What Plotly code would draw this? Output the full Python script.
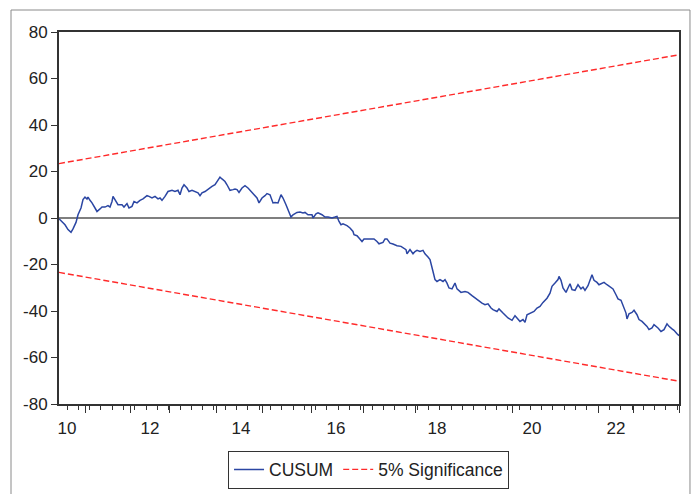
import plotly.graph_objects as go

obs = [0, 1, 3, 6, 9, 12, 14, 17, 19, 22, 24, 26, 28, 29, 31, 33, 36, 38, 41, 43, 46, 49, 51, 53, 54,
       57, 59, 63, 65, 68, 70, 73, 75, 78, 81, 84, 88, 90, 93, 96, 99, 101, 103, 106, 109, 113, 116,
       119, 121, 123, 125, 128, 130, 133, 136, 139, 141, 143, 146, 149, 153, 156, 158, 161, 163, 166,
       168, 171, 174, 176, 178, 180, 183, 186, 189, 192, 194, 196, 198, 200, 203, 206, 208, 211, 214,
       216, 219, 222, 224, 227, 229, 232, 234, 238, 241, 244, 246, 249, 253, 254, 257, 259, 263, 266,
       269, 273, 276, 278, 280, 282, 284, 288, 291, 294, 295, 298, 300, 303, 305, 308, 312, 315, 318,
       320, 324, 326, 328, 331, 334, 338, 342, 344, 347, 348, 351, 354, 356, 358, 361, 364, 366, 369,
       371, 374, 376, 378, 381, 384, 386, 388, 390, 393, 396, 398, 402, 406, 409, 413, 416, 419, 423,
       426, 429, 432, 434, 438, 440, 444, 447, 449, 453, 456, 458, 461, 464, 466, 468, 472, 475, 478,
       481, 484, 488, 491, 493, 496, 499, 500, 502, 504, 507, 509, 511, 513, 516, 519, 522, 524, 526,
       529, 531, 533, 535, 538, 540, 543, 545, 548, 551, 554, 557, 559, 562, 564, 567, 568, 570, 573,
       575, 578, 580, 583, 585, 588, 590, 593, 595, 599, 602, 605, 608, 610, 613, 615, 618, 620]
cusum = [-0.3, -0.7, -1.5, -2.9, -5.0, -6.2, -4.7, -1.9, 1.4, 4.3, 7.9, 9.0, 8.2, 9.0, 7.6, 6.5, 4.3,
         2.8, 3.9, 4.7, 4.7, 5.3, 4.7, 7.1, 9.3, 7.1, 5.7, 5.7, 4.7, 6.2, 4.3, 5.0, 7.1, 6.5, 7.6, 8.2,
         9.6, 9.3, 8.6, 9.3, 8.2, 8.6, 7.6, 9.3, 11.4, 11.9, 11.4, 11.9, 10.0, 12.9, 14.3, 12.9, 11.4,
         11.9, 11.4, 10.8, 9.6, 10.8, 11.4, 12.5, 13.6, 14.3, 15.7, 17.6, 16.8, 15.7, 14.3, 11.9, 12.2,
         12.5, 12.2, 11.0, 12.9, 13.9, 12.9, 11.4, 10.5, 9.3, 8.6, 6.5, 8.6, 9.6, 10.5, 10.0, 6.5, 6.7,
         6.5, 10.0, 8.6, 5.7, 3.6, 0.4, 1.4, 2.4, 2.6, 2.2, 2.4, 1.4, 1.4, 0.0, 1.8, 2.2, 1.4, 0.4, 0.4,
         0.0, 0.4, 0.7, -1.5, -2.9, -2.5, -3.3, -4.3, -5.8, -7.2, -7.6, -8.6, -10.1, -9.0, -9.0, -9.3,
         -9.0, -10.1, -11.1, -10.5, -9.0, -9.0, -10.8, -11.2, -11.9, -12.2, -12.9, -13.6, -15.4, -13.6,
         -15.4, -14.4, -13.9, -14.4, -13.9, -15.4, -16.8, -17.9, -23.0, -26.5, -27.3, -26.5, -27.3,
         -26.5, -28.0, -30.1, -30.5, -28.0, -30.5, -32.0, -31.6, -32.0, -33.4, -34.4, -35.4, -36.6,
         -37.3, -36.9, -38.7, -39.4, -40.2, -39.1, -40.9, -42.3, -43.0, -44.0, -42.0, -43.0, -44.5,
         -43.7, -44.9, -41.6, -40.6, -40.2, -38.7, -38.0, -36.3, -34.5, -32.3, -29.4, -28.0, -26.5,
         -25.1, -26.8, -30.1, -32.0, -30.1, -28.3, -30.8, -31.1, -28.7, -30.5, -29.7, -31.1, -29.1,
         -26.5, -24.4, -26.8, -27.7, -28.7, -28.0, -27.7, -28.7, -29.7, -30.5, -33.0, -34.8, -35.4,
         -38.0, -40.9, -43.4, -41.2, -40.6, -39.7, -41.6, -43.7, -44.5, -45.2, -46.6, -48.0, -47.3,
         -45.9, -47.3, -48.8, -48.0, -45.5, -46.6, -47.7, -48.3, -49.8, -50.6]

# 5% significance bounds (straight lines) at first and last observation
bound_obs = [0, 620]
upper = [23.4, 70.2]
lower = [-23.4, -70.2]

# x-axis tick labels and their observation positions
xlabel_pos = [8, 91, 182, 277, 378, 473, 557]
xlabels = ["10", "12", "14", "16", "18", "20", "22"]
long_ticks = [26, 71, 110, 157, 203, 252, 304, 356, 453, 539, 574, 620]
yticks = [-80, -60, -40, -20, 0, 20, 40, 60, 80]
ylabels = ["-80", "-60", "-40", "-20", "0", "20", "40", "60", "80"]

FONT = "Liberation Sans, Arial, sans-serif"

fig = go.Figure()
fig.add_trace(go.Scatter(x=obs, y=cusum, mode="lines", name="CUSUM",
                         line=dict(color="#2b46a3", width=1.5)))
fig.add_trace(go.Scatter(x=bound_obs, y=upper, mode="lines", name="5% Significance",
                         line=dict(color="#ff2a2a", width=1.4, dash="6px,3px")))
fig.add_trace(go.Scatter(x=bound_obs, y=lower, mode="lines", name="5% Significance",
                         showlegend=False,
                         line=dict(color="#ff2a2a", width=1.4, dash="6px,3px")))

fig.add_hline(y=0, line=dict(color="#555555", width=1.5), layer="below")

# outer frame
fig.add_shape(type="rect", xref="paper", yref="paper",
              x0=-0.0774, x1=1.0177, y0=-0.30, y1=1.0591,
              line=dict(color="#8a8a8a", width=1), fillcolor="rgba(0,0,0,0)")

fig.update_layout(
    width=696, height=494,
    margin=dict(l=59, r=17, t=32, b=90, autoexpand=False),
    paper_bgcolor="white", plot_bgcolor="white",
    font=dict(family=FONT, size=17, color="#222222"),
    showlegend=True,
    legend=dict(orientation="h", xref="container", yref="container",
                x=0.5295, xanchor="center", y=0.088, yanchor="top",
                bordercolor="#333333", borderwidth=1, bgcolor="white",
                font=dict(family=FONT, size=17.5, color="#222222"),
                itemwidth=30, tracegroupgap=0),
    xaxis=dict(range=[0, 620], showgrid=False, zeroline=False, automargin=False,
               showline=True, linecolor="#333333", linewidth=2, mirror=True,
               tickmode="array", tickvals=xlabel_pos, ticktext=xlabels,
               ticks="outside", ticklen=8, tickcolor="rgba(0,0,0,0)",
               minor=dict(tickmode="linear", tick0=8, dtick=11.3, ticks="outside",
                          ticklen=4, tickcolor="#333333", tickwidth=1, showgrid=False)),
    xaxis2=dict(range=[0, 620], overlaying="x", anchor="y", side="bottom", automargin=False,
                showgrid=False, zeroline=False, showline=False,
                tickmode="array", tickvals=long_ticks, showticklabels=False,
                ticks="outside", ticklen=8, tickcolor="#333333", tickwidth=1.3),
    yaxis=dict(range=[-80, 80], showgrid=False, zeroline=False, automargin=False,
               showline=True, linecolor="#333333", linewidth=2, mirror=True,
               tickmode="array", tickvals=yticks, ticktext=ylabels,
               ticks="outside", ticklen=6, tickcolor="#333333", tickwidth=1),
)
# dummy invisible trace to activate xaxis2
fig.add_trace(go.Scatter(x=[0], y=[0], xaxis="x2", mode="markers",
                         marker=dict(opacity=0), showlegend=False, hoverinfo="skip"))

fig.write_html("out.html", config={"displayModeBar": False},
               post_script="document.body.style.margin='0';")
